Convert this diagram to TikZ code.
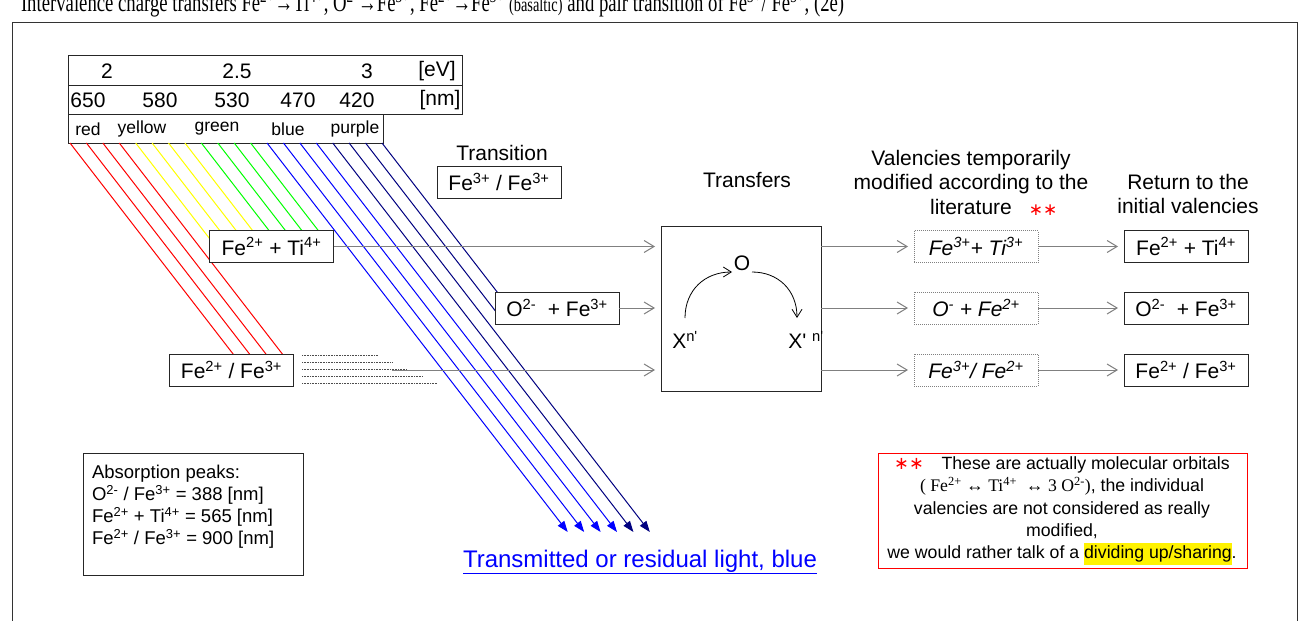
\documentclass[tikz,border=0pt]{standalone}
\usepackage{fontspec}
\setmainfont{Liberation Sans}
\newfontfamily\seriffont{Liberation Serif}
\newfontfamily\titlefont[FakeStretch=0.72]{Liberation Serif}
\newfontfamily\symfont{DejaVu Sans}
\usetikzlibrary{arrows.meta}
\definecolor{navyray}{RGB}{0,0,128}
\definecolor{greenray}{RGB}{0,255,0}
\definecolor{yellowray}{RGB}{255,255,0}
\definecolor{arrgray}{RGB}{128,128,128}
\begin{document}
\begin{tikzpicture}[x=1pt,y=-1pt,
  every node/.style={inner sep=0pt, outer sep=0pt},
  ftwenty/.style={font=\fontsize{21}{24.5}\selectfont},
  fnum/.style={font=\fontsize{21}{24}\selectfont},
  fcol/.style={font=\fontsize{17.5}{20}\selectfont},
  fabs/.style={font=\fontsize{18.5}{22}\selectfont},
  fnote/.style={font=\fontsize{17.7}{22.3}\selectfont},
  ionbox/.style={draw=black!85, line width=1pt, fill=white, minimum width=124pt, minimum height=32pt, ftwenty},
  valbox/.style={ionbox, draw=gray, densely dotted},
  conn/.style={draw=arrgray, line width=1pt, -{Straight Barb[length=10pt,width=12pt]}, shorten >=6pt},
  ray/.style={line width=1pt},
  rayend/.style={ray, -{Triangle[length=11pt,width=8pt]}},
  dotline/.style={draw=black!70, dash pattern=on 0.8pt off 0.8pt, line width=0.6pt},
  curvarrow/.style={draw=black, line width=0.8pt, -{Straight Barb[length=8pt,width=10pt]}},
]
\useasboundingbox (0,0) rectangle (1301,621);

% outer frame
\draw[black!80, line width=1pt] (12,621) -- (12,22) -- (1297,22) -- (1297,621);

% title (upper half cut by the page, as in the reference)
\node[anchor=base west, font=\titlefont\fontsize{26}{26}\selectfont] (title) at (21,12)
  {Intervalence charge transfers Fe\textsuperscript{2+}→Ti\textsuperscript{4+}, O\textsuperscript{2-}→Fe\textsuperscript{3+}, Fe\textsuperscript{2+}→Fe\textsuperscript{3+} {\fontsize{20}{20}\selectfont(basaltic)} and pair transition of Fe\textsuperscript{3+}/ Fe\textsuperscript{3+}, (2e)};

% spectrum table
\draw[black!85, line width=1pt] (68,55) rectangle (462,114);
\draw[black!85, line width=1pt] (68,85) -- (462,85);
\draw[black!85, line width=1pt] (68,114) rectangle (383,143);
\node[fnum] (ev1) at (107,71) {2};
\node[fnum] (ev2) at (237,71) {2.5};
\node[fnum] (ev3) at (367,71) {3};
\node[fnum] (evu) at (437,71) {[eV]};
\node[fnum] (nm1) at (88,100) {650};
\node[fnum] (nm2) at (160,100) {580};
\node[fnum] (nm3) at (232,100) {530};
\node[fnum] (nm4) at (298,100) {470};
\node[fnum] (nm5) at (357,100) {420};
\node[fnum] (nmu) at (440,100) {[nm]};
\node[fcol] (c1) at (88,129) {red};
\node[fcol] (c2) at (142,129) {yellow};
\node[fcol] (c3) at (217,129) {green};
\node[fcol] (c4) at (288,129) {blue};
\node[fcol] (c5) at (355,129) {purple};

% light rays
\foreach \i in {0,1,2,3} \draw[ray,red] ({70+16.42*\i},143) -- ++({0.773*225},225);
\foreach \i in {4,5,6,7} \draw[ray,yellowray] ({70+16.42*\i},143) -- ++({0.773*102},102);
\foreach \i in {8,9,10,11} \draw[ray,greenray] ({70+16.42*\i},143) -- ++({0.773*102},102);
\foreach \i in {12,13,14,15} \draw[rayend,blue] ({70+16.42*\i},143) -- ++({0.773*389},389);
\foreach \i in {16,17} \draw[rayend,navyray] ({70+16.42*\i},143) -- ++({0.773*389},389);
\foreach \i in {18,19} \draw[ray,navyray] ({70+16.42*\i},143) -- ++({0.773*172},172);

% dotted lines right of Fe2+/Fe3+
\foreach \yy/\xe in {355/378, 362/392, 369/407, 376/423, 383/437}
  \draw[dotline] (302,\yy) -- (\xe,\yy);

% left boxes
\node[ionbox] (ft) at (271.5,246.5) {Fe\textsuperscript{2+} + Ti\textsuperscript{4+}};
\node[ionbox] (ff) at (231.5,370) {Fe\textsuperscript{2+} / Fe\textsuperscript{3+}};
\node[ionbox] (of) at (557,308) {O\textsuperscript{2-}\ \ + Fe\textsuperscript{3+}};
\node[ftwenty] (trl) at (502,153) {Transition};
\node[ionbox] (tt) at (499,182) {Fe\textsuperscript{3+} / Fe\textsuperscript{3+}};

% transfers box
\node[ftwenty] (trt) at (747,180) {Transfers};
\node[draw=black!85, line width=1pt, fill=white, minimum width=160pt, minimum height=165pt] (tr) at (741,308.5) {};
\node[ftwenty] (o) at (742,263) {O};
\node[ftwenty] (xn) at (685,340) {X\textsuperscript{n\textquotesingle}};
\node[ftwenty] (xp) at (806,340) {X\textquotesingle\ \textsuperscript{n\textquotesingle}};
\draw[curvarrow] (685,318) .. controls (685,290) and (705,272) .. (732,272);
\draw[curvarrow] (752,272) .. controls (778,272) and (797,290) .. (797,318);

% right side
\node[ftwenty, align=center] (vl) at (971,182) {Valencies temporarily\\modified according to the\\literature};
\node[font=\symfont\fontsize{17}{17}\selectfont, text=red] (st) at (1043,210) {∗∗};
\node[ftwenty, align=center] (rl) at (1188,194) {Return to the\\initial valencies};
\node[valbox] (d1) at (976,246.5) {\itshape Fe\textsuperscript{3+}+ Ti\textsuperscript{3+}};
\node[valbox] (d2) at (976,308) {\itshape O\textsuperscript{-} + Fe\textsuperscript{2+}};
\node[valbox] (d3) at (976,370) {\itshape Fe\textsuperscript{3+}/ Fe\textsuperscript{2+}};
\node[ionbox] (s1) at (1186,246.5) {Fe\textsuperscript{2+} + Ti\textsuperscript{4+}};
\node[ionbox] (s2) at (1186,308) {O\textsuperscript{2-}\ \ + Fe\textsuperscript{3+}};
\node[ionbox] (s3) at (1186,370) {Fe\textsuperscript{2+} / Fe\textsuperscript{3+}};

% connectors
\draw[conn] (ft.east) -- (ft.east -| tr.west);
\draw[conn] (of.east) -- (of.east -| tr.west);
\coordinate (ffs) at (392,370);
\draw[conn] (ffs) -- (ffs -| tr.west);
\draw[conn] (d1.west -| tr.east) -- (d1.west);
\draw[conn] (d2.west -| tr.east) -- (d2.west);
\draw[conn] (d3.west -| tr.east) -- (d3.west);
\draw[conn] (d1.east) -- (s1.west);
\draw[conn] (d2.east) -- (s2.west);
\draw[conn] (d3.east) -- (s3.west);

% absorption box
\node[draw=black!85, line width=1pt, minimum width=220pt, minimum height=122pt, anchor=north west] (abs) at (83,453) {};
\node[fabs, anchor=north west, align=left] (abst) at (92,465)
  {Absorption peaks:\\
   O\textsuperscript{2-} / Fe\textsuperscript{3+} = 388 [nm]\\
   Fe\textsuperscript{2+} + Ti\textsuperscript{4+} = 565 [nm]\\
   Fe\textsuperscript{2+} / Fe\textsuperscript{3+} = 900 [nm]};

% transmitted light
\node[font=\fontsize{24}{24}\selectfont, text=blue] (tl) at (640,562) {\underline{Transmitted or residual light, blue}};

% note box
\node[draw=red, line width=1pt, minimum width=369pt, minimum height=115pt] (note) at (1062.5,510.5) {};
\node[fnote, align=center] (notet) at (1062,511)
  {{\symfont\color{red}∗∗}\quad These are actually molecular orbitals\\
   {\seriffont( Fe\textsuperscript{2+} ↔ Ti\textsuperscript{4+}\ \ ↔ 3 O\textsuperscript{2-})}, the individual\\
   valencies are not considered as really\\
   modified,\\
   we would rather talk of a {\fboxsep=0pt\colorbox{yellow}{\strut dividing up/sharing}}.};
\end{tikzpicture}
\end{document}
